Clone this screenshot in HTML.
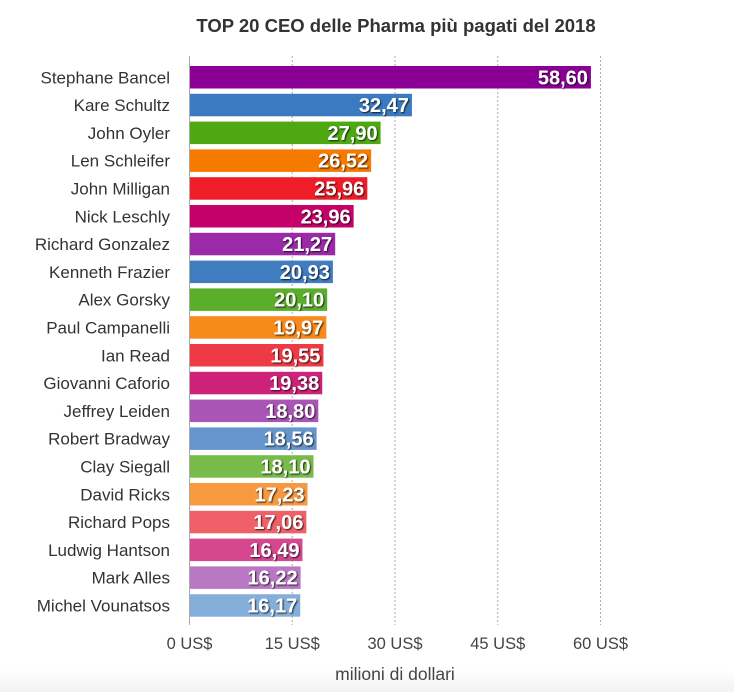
<!DOCTYPE html>
<html><head><meta charset="utf-8"><style>
body{margin:0;background:#fff;font-family:"Liberation Sans",Arial,sans-serif;}
#wrap{position:relative;width:734px;height:692px;overflow:hidden;background:linear-gradient(#fff 0,#fff 670px,#f2f2f2 692px);}
</style></head><body>
<div id="wrap">
<svg id="svg" width="734" height="692"></svg>
</div>
<script>
const names=["Stephane Bancel","Kare Schultz","John Oyler","Len Schleifer","John Milligan","Nick Leschly","Richard Gonzalez","Kenneth Frazier","Alex Gorsky","Paul Campanelli","Ian Read","Giovanni Caforio","Jeffrey Leiden","Robert Bradway","Clay Siegall","David Ricks","Richard Pops","Ludwig Hantson","Mark Alles","Michel Vounatsos"];
const values=[58.60,32.47,27.90,26.52,25.96,23.96,21.27,20.93,20.10,19.97,19.55,19.38,18.80,18.56,18.10,17.23,17.06,16.49,16.22,16.17];
const ticks=[0,15,30,45,60];
const colors=["#8b0094","#3b7ac0","#4da812","#f77a00","#ee1d28","#c5006a","#9b2aa8","#3f7cc0","#5aae2a","#f78a1a","#ee3a45","#cc2279","#a955b5","#6595cc","#78bb4a","#f7993f","#f06068","#d5478f","#b978c4","#86aedb"];
const NS="http://www.w3.org/2000/svg",svg=document.getElementById("svg");
const x0=189.5,pxPer=6.85,top0=66,pitch=27.8,bh=22.5;
const xs=v=>x0+v*pxPer, ys=i=>top0+i*pitch;
function mk(t,a,p){const e=document.createElementNS(NS,t);for(const k in a)e.setAttribute(k,a[k]);(p||svg).appendChild(e);return e;}
const defs=mk("defs",{});
const f=mk("filter",{id:"sh",x:"-10%",y:"-30%",width:"130%",height:"170%"},defs);
mk("feDropShadow",{dx:"1",dy:"1",stdDeviation:"0.8","flood-color":"#000","flood-opacity":"0.8"},f);
let t=mk("text",{x:396,y:32,"text-anchor":"middle","font-size":"18.5","font-weight":"bold",fill:"#333"});
t.textContent="TOP 20 CEO delle Pharma più pagati del 2018";


ticks.forEach(v=>{
 if(v>0){const g=mk("line",{x1:xs(v),x2:xs(v),y1:56,y2:625,stroke:"#aaa","stroke-dasharray":"2,2","stroke-width":"1"});
 
 }
 const l=mk("text",{x:xs(v),y:649,"text-anchor":"middle","font-size":"16.5",fill:"#444"});
 l.textContent=v+" US$";
 
 
});
values.forEach((v,i)=>{
 const y=ys(i);
 const r=mk("rect",{x:x0,y:y,width:xs(v)-x0,height:bh,fill:colors[i]});
 
 
 const n=mk("text",{x:170,y:y+bh/2+6,"text-anchor":"end","font-size":"17",fill:"#333"});
 n.textContent=names[i];
 
 
 const vl=mk("text",{x:xs(v)-3,y:y+bh/2+7,"text-anchor":"end","font-size":"20","font-weight":"bold",fill:"#fff",filter:"url(#sh)"});
 vl.textContent=v.toFixed(2).replace(".",",");
 
 
});
const ax=mk("line",{x1:x0,x2:x0,y1:56,y2:625,stroke:"#aaa","stroke-width":"1"});


const xt=mk("text",{x:395,y:680,"text-anchor":"middle","font-size":"17.5",fill:"#444"});
xt.textContent="milioni di dollari";


</script>
</body></html>
